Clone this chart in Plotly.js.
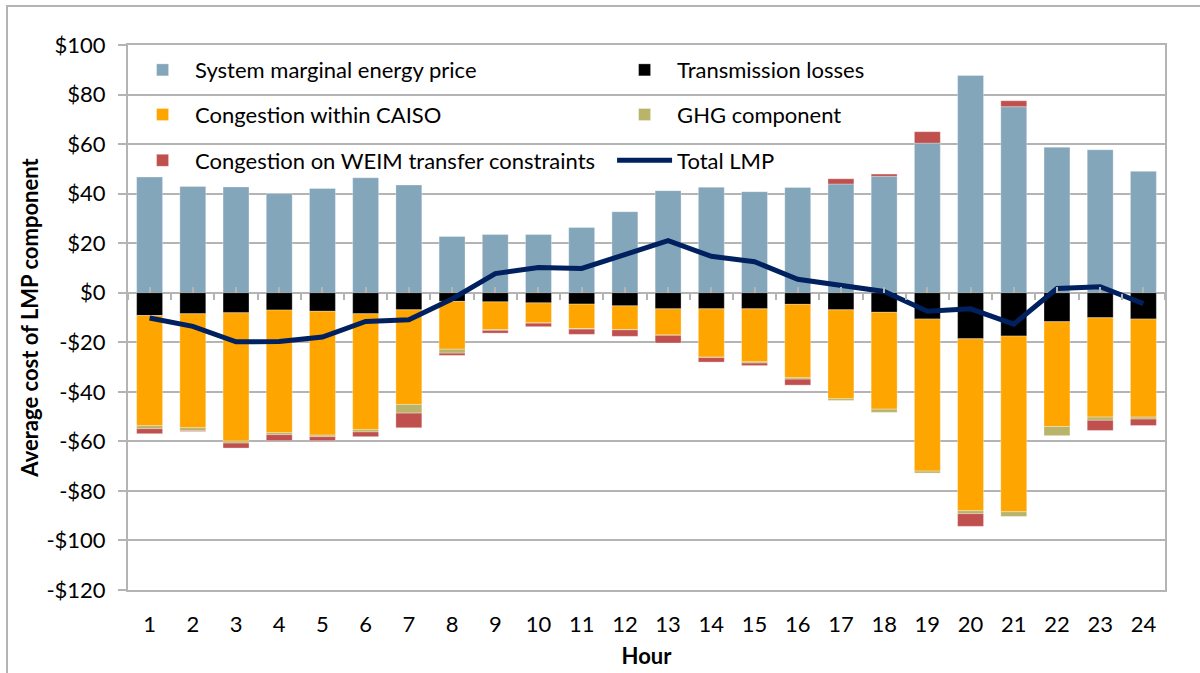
<!DOCTYPE html>
<html>
<head>
<meta charset="utf-8">
<script src="https://cdn.plot.ly/plotly-3.0.1.min.js"></script>
<style>
  body { margin: 0; background: #fff; }
  #chart { position: absolute; left: 0; top: 0; width: 1200px; height: 673px; }
  #frame { position: absolute; left: 6px; top: 5px; width: 1200px; height: 680px;
           border-left: 2px solid #b4b4b4; border-top: 2px solid #b4b4b4; pointer-events: none; z-index: 5; }
</style>
</head>
<body>
<div id="chart"></div>
<div id="frame"></div>
<script>
var hours = [1, 2, 3, 4, 5, 6, 7, 8, 9, 10, 11, 12, 13, 14, 15, 16, 17, 18, 19, 20, 21, 22, 23, 24];

var energyPrice = [46.7, 42.9, 42.7, 40.0, 42.1, 46.4, 43.5, 22.7, 23.5, 23.5, 26.3, 32.7,
                   41.2, 42.6, 40.8, 42.5, 43.9, 47.0, 60.4, 87.7, 75.1, 58.8, 57.7, 49.0];
var losses = [-9.2, -8.5, -8.1, -7.0, -7.5, -8.5, -6.9, -3.5, -3.7, -4.1, -4.6, -5.3,
              -6.5, -6.5, -6.5, -4.7, -6.9, -7.9, -10.6, -18.6, -17.5, -11.7, -10.1, -10.6];
var congCaiso = [-44.5, -46.0, -51.8, -49.5, -50.0, -46.8, -38.2, -19.3, -11.2, -8.1, -9.9, -9.6,
                 -10.6, -19.5, -21.4, -29.6, -35.9, -39.1, -61.4, -69.4, -70.9, -42.3, -40.1, -39.6];
var ghg = [-1.2, -1.2, -0.8, -0.8, -0.6, -0.9, -3.5, -1.6, -0.3, -0.1, -0.2, -0.1,
           -0.1, -0.2, -0.5, -0.6, -0.7, -1.3, -0.8, -1.2, -1.9, -3.7, -1.3, -0.8];
var congWeim = [-2.0, -0.3, -2.0, -2.4, -1.6, -1.9, -5.9, -0.9, -1.1, -1.4, -2.1, -2.6,
                -3.1, -1.8, -1.0, -2.4, 2.1, 0.9, 4.6, -5.1, 2.4, 0, -4.1, -2.6];
var totalLmp = [-10.2, -13.6, -19.8, -19.7, -17.9, -11.6, -10.9, -2.5, 7.7, 10.2, 9.8, 15.3,
                21.0, 14.7, 12.5, 5.4, 3.0, 0.5, -7.5, -6.5, -12.7, 1.7, 2.4, -4.4];

var yTickVals = [-120, -100, -80, -60, -40, -20, 0, 20, 40, 60, 80, 100];
var yTickText = ['-$120', '-$100', '-$80', '-$60', '-$40', '-$20', '$0', '$20', '$40', '$60', '$80', '$100'];

var fontFam = 'Lato, "Open Sans", sans-serif';
var gridCol = '#b4b4b4';

function barTrace(name, vals, color, legend) {
  return {
    type: 'bar',
    name: name,
    x: hours,
    y: vals,
    legend: legend,
    marker: {color: color, line: {color: 'rgba(255,255,255,0.6)', width: 0.5}}
  };
}

var data = [
  barTrace('System marginal energy price', energyPrice, '#84a6ba', 'legend'),
  barTrace('Transmission losses', losses, '#000000', 'legend'),
  barTrace('Congestion within CAISO', congCaiso, '#ffa500', 'legend2'),
  barTrace('GHG component', ghg, '#b9b46a', 'legend2'),
  barTrace('Congestion on WEIM transfer constraints', congWeim, '#c0504d', 'legend3'),
  {
    type: 'scatter',
    mode: 'lines',
    name: 'Total LMP',
    x: hours,
    y: totalLmp,
    xaxis: 'x2',
    legend: 'legend3',
    line: {color: '#002060', width: 5}
  }
];

function legendAt(y) {
  return {
    orientation: 'h',
    x: 0.002, xanchor: 'left',
    y: y, yanchor: 'middle',
    bgcolor: 'rgba(0,0,0,0)',
    font: {family: fontFam, size: 22, color: '#000'},
    entrywidth: 412,
    entrywidthmode: 'pixels',
    itemwidth: 55,
    traceorder: 'normal'
  };
}

var layout = {
  width: 1200,
  height: 673,
  margin: {l: 128, r: 35, t: 45, b: 83},
  paper_bgcolor: 'rgba(0,0,0,0)',
  plot_bgcolor: '#ffffff',
  barmode: 'relative',
  bargap: 0.4,
  showlegend: true,
  legend: legendAt(0.954),
  legend2: legendAt(0.872),
  legend3: legendAt(0.788),
  font: {family: fontFam, size: 22, color: '#000'},
  xaxis: {
    type: 'linear',
    range: [0.5, 24.5],
    tickmode: 'array',
    tickvals: hours,
    ticktext: hours.map(String),
    ticks: '',
    ticklabelstandoff: 14,
    showgrid: false,
    zeroline: false,
    showline: true,
    mirror: true,
    linecolor: gridCol,
    linewidth: 2,
    tickfont: {family: fontFam, size: 22},
    title: {text: '<b>Hour</b>', font: {family: fontFam, size: 22}, standoff: 12}
  },
  xaxis2: {
    type: 'linear',
    overlaying: 'x',
    anchor: 'free',
    position: 120 / 220,
    range: [0.5, 24.5],
    showticklabels: false,
    showgrid: false,
    zeroline: false,
    showline: false,
    tickmode: 'linear',
    tick0: 0.5,
    dtick: 1,
    ticks: 'outside',
    ticklen: 6,
    tickwidth: 2,
    tickcolor: gridCol,
    minor: {ticks: 'inside', tick0: 1, dtick: 1, ticklen: 6, tickwidth: 2, tickcolor: gridCol, showgrid: false}
  },
  yaxis: {
    range: [-120, 100],
    tickmode: 'array',
    tickvals: yTickVals,
    ticktext: yTickText,
    ticks: 'outside',
    ticklen: 8,
    tickwidth: 2,
    tickcolor: gridCol,
    ticklabelstandoff: 8,
    showgrid: true,
    gridcolor: gridCol,
    gridwidth: 2,
    zeroline: true,
    zerolinecolor: gridCol,
    zerolinewidth: 2,
    showline: true,
    mirror: true,
    linecolor: gridCol,
    linewidth: 2,
    tickfont: {family: fontFam, size: 22},
    title: {text: '<b>Average cost of LMP component</b>', font: {family: fontFam, size: 22}, standoff: 2}
  }
};

Plotly.newPlot('chart', data, layout, {displayModeBar: false, staticPlot: true});
</script>
</body>
</html>
